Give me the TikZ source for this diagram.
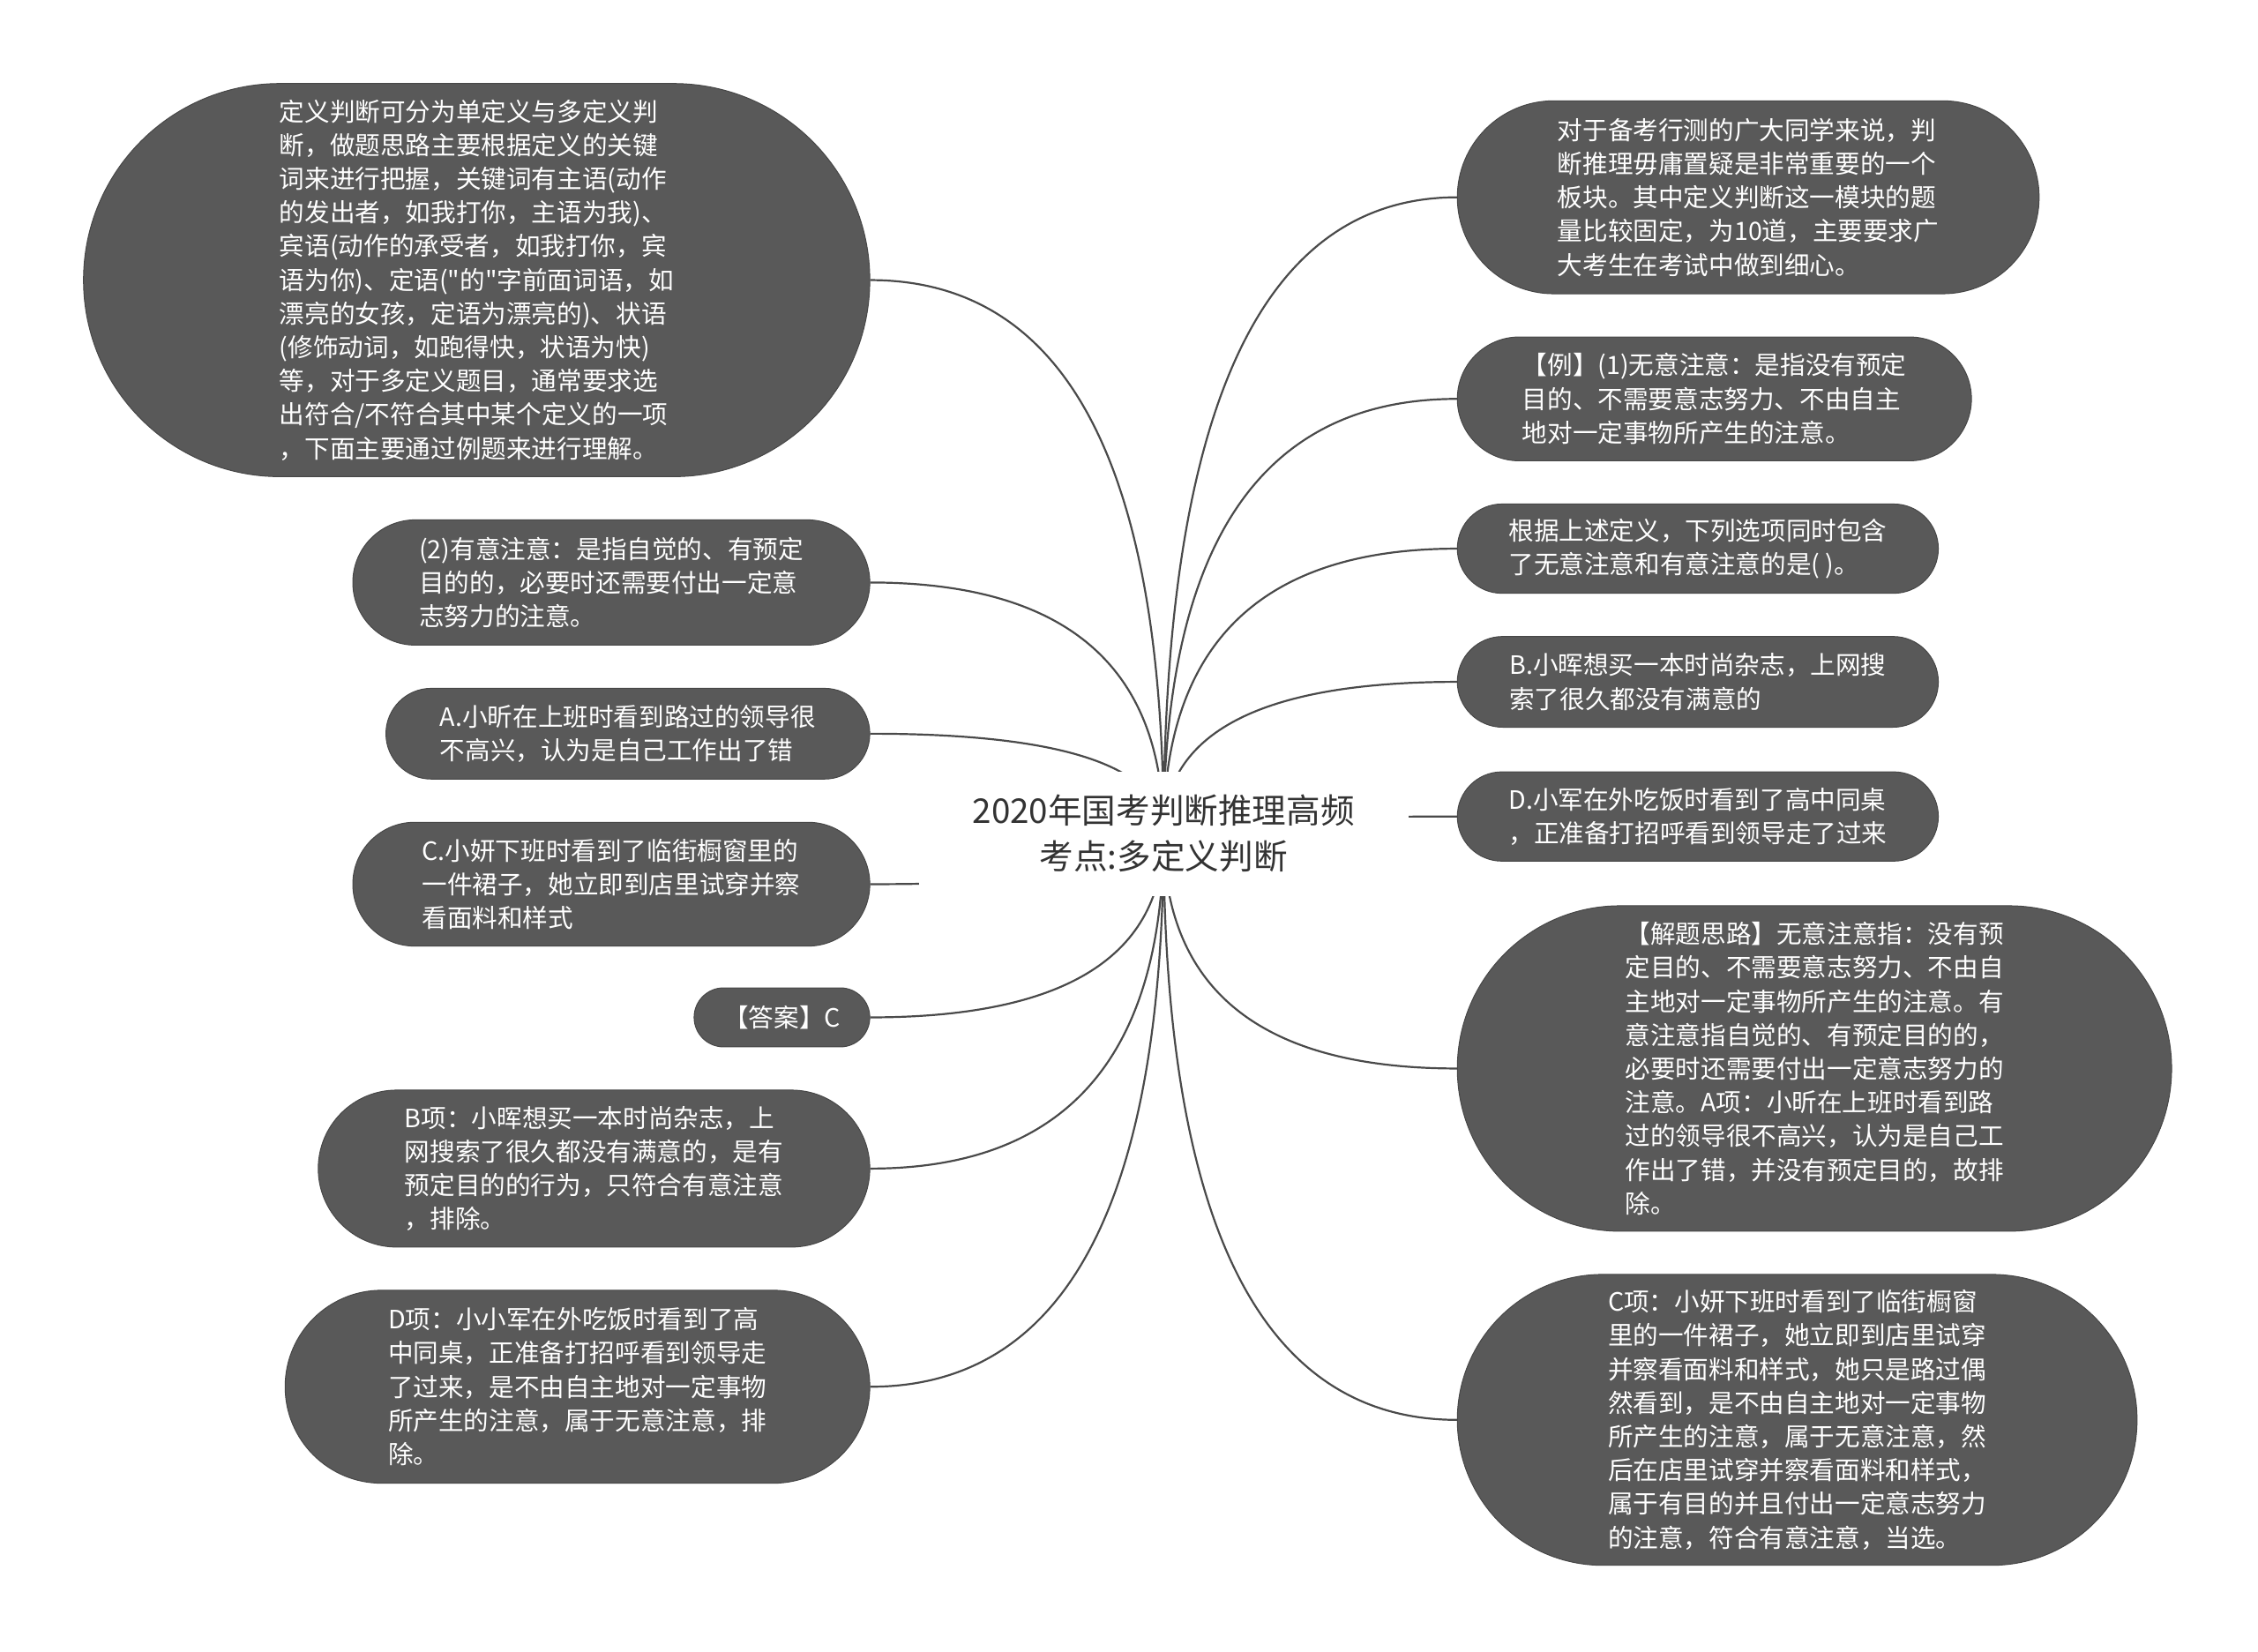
\documentclass[tikz,border=0pt]{standalone}
\usepackage{fontspec}
\newfontfamily\cjk{Noto Sans CJK SC}
\usetikzlibrary{calc}
\definecolor{boxfill}{HTML}{595959}
\definecolor{boxline}{HTML}{474747}
\definecolor{linkc}{HTML}{4A4A4A}
\definecolor{roottext}{HTML}{333333}
\pgfdeclarelayer{bg}
\pgfdeclarelayer{lines}
\pgfsetlayers{bg,lines,main}
\newcommand\link[2]{%
  \coordinate (q) at (c.center |- #1.#2);
  \draw[conn] (c.center) .. controls ($(c.center)!0.6667!(q)$) and ($(#1.#2)!0.6667!(q)$) .. (#1.#2);}
\tikzset{
  bx/.style 2 args={draw=boxline, line width=0.5pt, fill=boxfill, text=white,
    align=left, inner sep=0pt,
    font=\cjk\fontsize{14.3}{19.1}\selectfont,
    minimum width=#1*0.8163pt, minimum height=#2*0.8163pt,
    rounded corners=#2*0.4081pt},
  rootnode/.style={fill=white, text=roottext, align=center, inner sep=0pt,
    font=\cjk\fontsize{19.3}{26}\selectfont,
    minimum width=340*0.8163pt, minimum height=86*0.8163pt},
  conn/.style={draw=linkc, line width=1.1pt}
}
\begin{document}
\begin{tikzpicture}[x=0.8163pt, y=-0.8163pt]
\begin{pgfonlayer}{bg}
\fill[white] (0,0) rectangle (1568,1147);
\end{pgfonlayer}
\useasboundingbox (0,0) rectangle (1568,1147);

\node[rootnode] (c) at (808,579) {2020年国考判断推理高频\\考点:多定义判断};

% left side
\node[bx={546}{273}] (L1) at (331,194.5) {定义判断可分为单定义与多定义判\\断，做题思路主要根据定义的关键\\词来进行把握，关键词有主语(动作\\的发出者，如我打你，主语为我)、\\宾语(动作的承受者，如我打你，宾\\语为你)、定语("的"字前面词语，如\\漂亮的女孩，定语为漂亮的)、状语\\(修饰动词，如跑得快，状语为快)\\等，对于多定义题目，通常要求选\\出符合/不符合其中某个定义的一项\\，下面主要通过例题来进行理解。};
\node[bx={359}{87}] (L2) at (424.5,404.5) {(2)有意注意：是指自觉的、有预定\\目的的，必要时还需要付出一定意\\志努力的注意。};
\node[bx={336}{63}] (L3) at (436,509.5) {A.小昕在上班时看到路过的领导很\\不高兴，认为是自己工作出了错};
\node[bx={359}{86}] (L4) at (424.5,614) {C.小妍下班时看到了临街橱窗里的\\一件裙子，她立即到店里试穿并察\\看面料和样式};
\node[bx={122}{41}] (L5) at (543,706.5) {【答案】C};
\node[bx={383}{109}] (L6) at (412.5,811.5) {B项：小晖想买一本时尚杂志，上\\网搜索了很久都没有满意的，是有\\预定目的的行为，只符合有意注意\\，排除。};
\node[bx={406}{134}] (L7) at (401,963) {D项：小小军在外吃饭时看到了高\\中同桌，正准备打招呼看到领导走\\了过来，是不由自主地对一定事物\\所产生的注意，属于无意注意，排\\除。};

% right side
\node[bx={404}{134}] (R1) at (1214,137) {对于备考行测的广大同学来说，判\\断推理毋庸置疑是非常重要的一个\\板块。其中定义判断这一模块的题\\量比较固定，为10道，主要要求广\\大考生在考试中做到细心。};
\node[bx={357}{86}] (R2) at (1190.5,277) {【例】(1)无意注意：是指没有预定\\目的、不需要意志努力、不由自主\\地对一定事物所产生的注意。};
\node[bx={334}{62}] (R3) at (1179,381) {根据上述定义，下列选项同时包含\\了无意注意和有意注意的是( )。};
\node[bx={334}{63}] (R4) at (1179,473.5) {B.小晖想买一本时尚杂志，上网搜\\索了很久都没有满意的};
\node[bx={334}{62}] (R5) at (1179,567) {D.小军在外吃饭时看到了高中同桌\\，正准备打招呼看到领导走了过来};
\node[bx={496}{226}] (R6) at (1260,742) {【解题思路】无意注意指：没有预\\定目的、不需要意志努力、不由自\\主地对一定事物所产生的注意。有\\意注意指自觉的、有预定目的的，\\必要时还需要付出一定意志努力的\\注意。A项：小昕在上班时看到路\\过的领导很不高兴，认为是自己工\\作出了错，并没有预定目的，故排\\除。};
\node[bx={472}{202}] (R7) at (1248,986) {C项：小妍下班时看到了临街橱窗\\里的一件裙子，她立即到店里试穿\\并察看面料和样式，她只是路过偶\\然看到，是不由自主地对一定事物\\所产生的注意，属于无意注意，然\\后在店里试穿并察看面料和样式，\\属于有目的并且付出一定意志努力\\的注意，符合有意注意，当选。};

\begin{pgfonlayer}{lines}
\link{L1}{east}
\link{L2}{east}
\link{L3}{east}
\link{L4}{east}
\link{L5}{east}
\link{L6}{east}
\link{L7}{east}
\link{R1}{west}
\link{R2}{west}
\link{R3}{west}
\link{R4}{west}
\link{R5}{west}
\link{R6}{west}
\link{R7}{west}
\end{pgfonlayer}
\end{tikzpicture}
\end{document}
